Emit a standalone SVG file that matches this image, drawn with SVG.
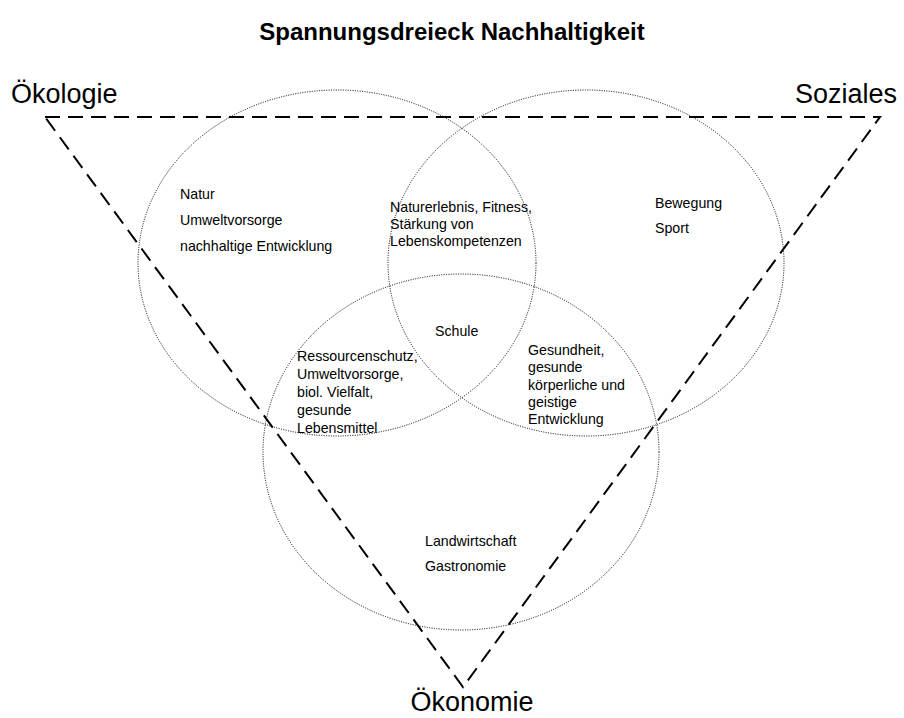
<svg xmlns="http://www.w3.org/2000/svg" width="904" height="718" viewBox="0 0 904 718">
<style>
text{font-family:"Liberation Sans",Arial,sans-serif;fill:#000}
.t{font-size:24px;font-weight:bold}
.big{font-size:27px}
.s{font-size:14.2px}
.ell{fill:none;stroke:#000;stroke-width:1;stroke-dasharray:1 1.4}
.tri{fill:none;stroke:#000;stroke-width:2;stroke-dasharray:15 8}
</style>
<rect width="904" height="718" fill="#fff"/>
<text class="t" x="452" y="40" text-anchor="middle">Spannungsdreieck Nachhaltigkeit</text>
<g id="connectors">
<polygon class="tri" points="45,117 880,117 463,687"/>
</g>
<g id="oekologie">
<ellipse class="ell" cx="337" cy="263" rx="199" ry="173"/>
<text class="big" x="11" y="103">Ökologie</text>
<text class="s" x="180" y="199">Natur</text>
<text class="s" x="180" y="225">Umweltvorsorge</text>
<text class="s" x="180" y="251">nachhaltige Entwicklung</text>
</g>
<g id="soziales">
<ellipse class="ell" cx="586" cy="263" rx="198" ry="173"/>
<text class="big" x="897" y="103" text-anchor="end">Soziales</text>
<text class="s" x="655" y="208">Bewegung</text>
<text class="s" x="655" y="233">Sport</text>
</g>
<g id="oekonomie">
<ellipse class="ell" cx="461" cy="452" rx="198" ry="178"/>
<text class="big" x="472" y="711" text-anchor="middle">Ökonomie</text>
<text class="s" x="425" y="546">Landwirtschaft</text>
<text class="s" x="425" y="571">Gastronomie</text>
</g>
<g id="oeko-sozial">
<text class="s" x="390" y="212">Naturerlebnis, Fitness,</text>
<text class="s" x="390" y="229">Stärkung von</text>
<text class="s" x="390" y="246">Lebenskompetenzen</text>
</g>
<g id="schule">
<text class="s" x="435" y="336">Schule</text>
</g>
<g id="oeko-oekonomie">
<text class="s" x="297" y="361">Ressourcenschutz,</text>
<text class="s" x="297" y="379">Umweltvorsorge,</text>
<text class="s" x="297" y="397">biol. Vielfalt,</text>
<text class="s" x="297" y="415">gesunde</text>
<text class="s" x="297" y="433">Lebensmittel</text>
</g>
<g id="sozial-oekonomie">
<text class="s" x="528" y="355">Gesundheit,</text>
<text class="s" x="528" y="372">gesunde</text>
<text class="s" x="528" y="390">körperliche und</text>
<text class="s" x="528" y="407">geistige</text>
<text class="s" x="528" y="424">Entwicklung</text>
</g>
</svg>
